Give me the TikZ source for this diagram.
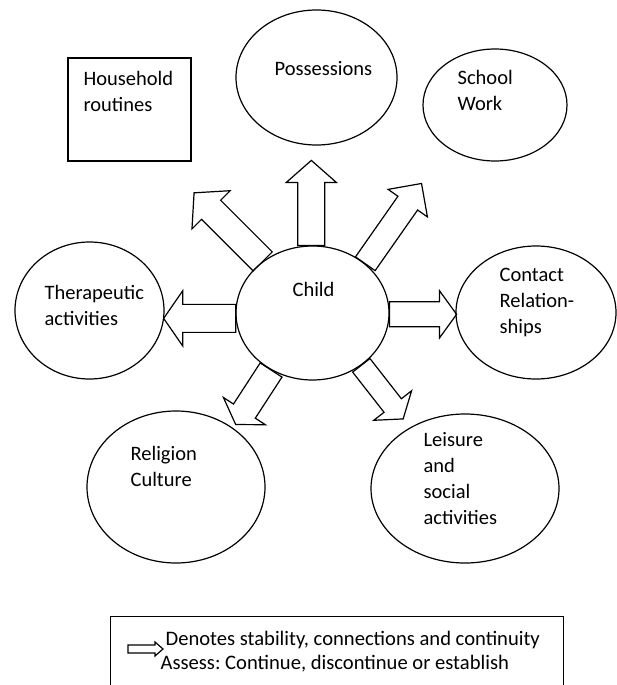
\documentclass[tikz,border=0pt]{standalone}
\usepackage{fontspec}
\setmainfont{Carlito}
\usetikzlibrary{shapes.geometric}
\frenchspacing

% block arrow: start, angle, length, head length, head half width, shaft half width
\newcommand{\bigarrow}[6]{%
	\draw[shift={(#1)}, rotate=#2]
	(0,-#6) -- ({#3-#4},-#6) -- ({#3-#4},-#5) -- (#3,0)
	-- ({#3-#4},#5) -- ({#3-#4},#6) -- (0,#6) -- cycle;
}

\begin{document}
\begin{tikzpicture}[x=1pt, y=-1pt, line width=1.2pt,
	bubble/.style={draw, ellipse, inner sep=0pt},
	txt/.style={anchor=north west, inner sep=0pt, align=left, font=\fontsize{20.5}{26}\selectfont},
	keytxt/.style={txt, font=\fontsize{20.6}{24}\selectfont}]
	\useasboundingbox (0,0) rectangle (617,685);
	
	\node[draw, inner sep=0pt, minimum width=123, minimum height=103] (house) at (129.5,109.5) {};
	\node[bubble, minimum width=161, minimum height=135] (poss) at (316.5,77.5) {};
	\node[bubble, minimum width=144, minimum height=112] (school) at (495,105) {};
	\node[bubble, minimum width=153, minimum height=134] (child) at (312.5,313) {};
	\node[bubble, minimum width=149, minimum height=137] (thera) at (89.5,310.5) {};
	\node[bubble, minimum width=160, minimum height=133] (contact) at (536,312.5) {};
	\node[bubble, minimum width=178, minimum height=152] (relig) at (176,487) {};
	\node[bubble, minimum width=188, minimum height=149] (leisure) at (465,488.5) {};
	
	\node[txt] (housetxt) at (83,71) {Household\\routines};
	\node[txt] (posstxt) at (274,61) {Possessions};
	\node[txt] (schooltxt) at (457,70) {School\\Work};
	\node[txt] (childtxt) at (292,282) {Child};
	\node[txt] (theratxt) at (44,285) {Therapeutic\\activities};
	\node[txt] (contacttxt) at (499,268) {Contact\\Relation-\\ships};
	\node[txt] (religtxt) at (130,446) {Religion\\Culture};
	\node[txt] (leisuretxt) at (423,432) {Leisure\\and\\social\\activities};
	
	% arrows out of the child
	\bigarrow{child.91}{90}{85}{22}{25}{13.5}
	\bigarrow{child.134}{135}{97}{24}{27}{13.5}
	\bigarrow{child.43}{55}{98}{24}{24}{12}
	\bigarrow{child.184}{180}{72}{19}{27.5}{14}
	\bigarrow{child.359}{0}{67}{17}{23.5}{12.5}
	\bigarrow{child.234}{237}{65}{16}{25}{13}
	\bigarrow{child.313}{308}{68}{17}{24}{11}
	
	% key
	\node[draw, inner sep=0pt, minimum width=453, minimum height=90, anchor=north west] (legend) at (110,616) {};
	\coordinate (keytail) at (128,649);
	\bigarrow{keytail}{0}{35}{8}{7}{4}
	\node[keytxt] (keyone) at (165,631) {Denotes stability, connections and continuity};
	\node[keytxt] (keytwo) at (160,655) {Assess: Continue, discontinue or establish};
\end{tikzpicture}
\end{document}
